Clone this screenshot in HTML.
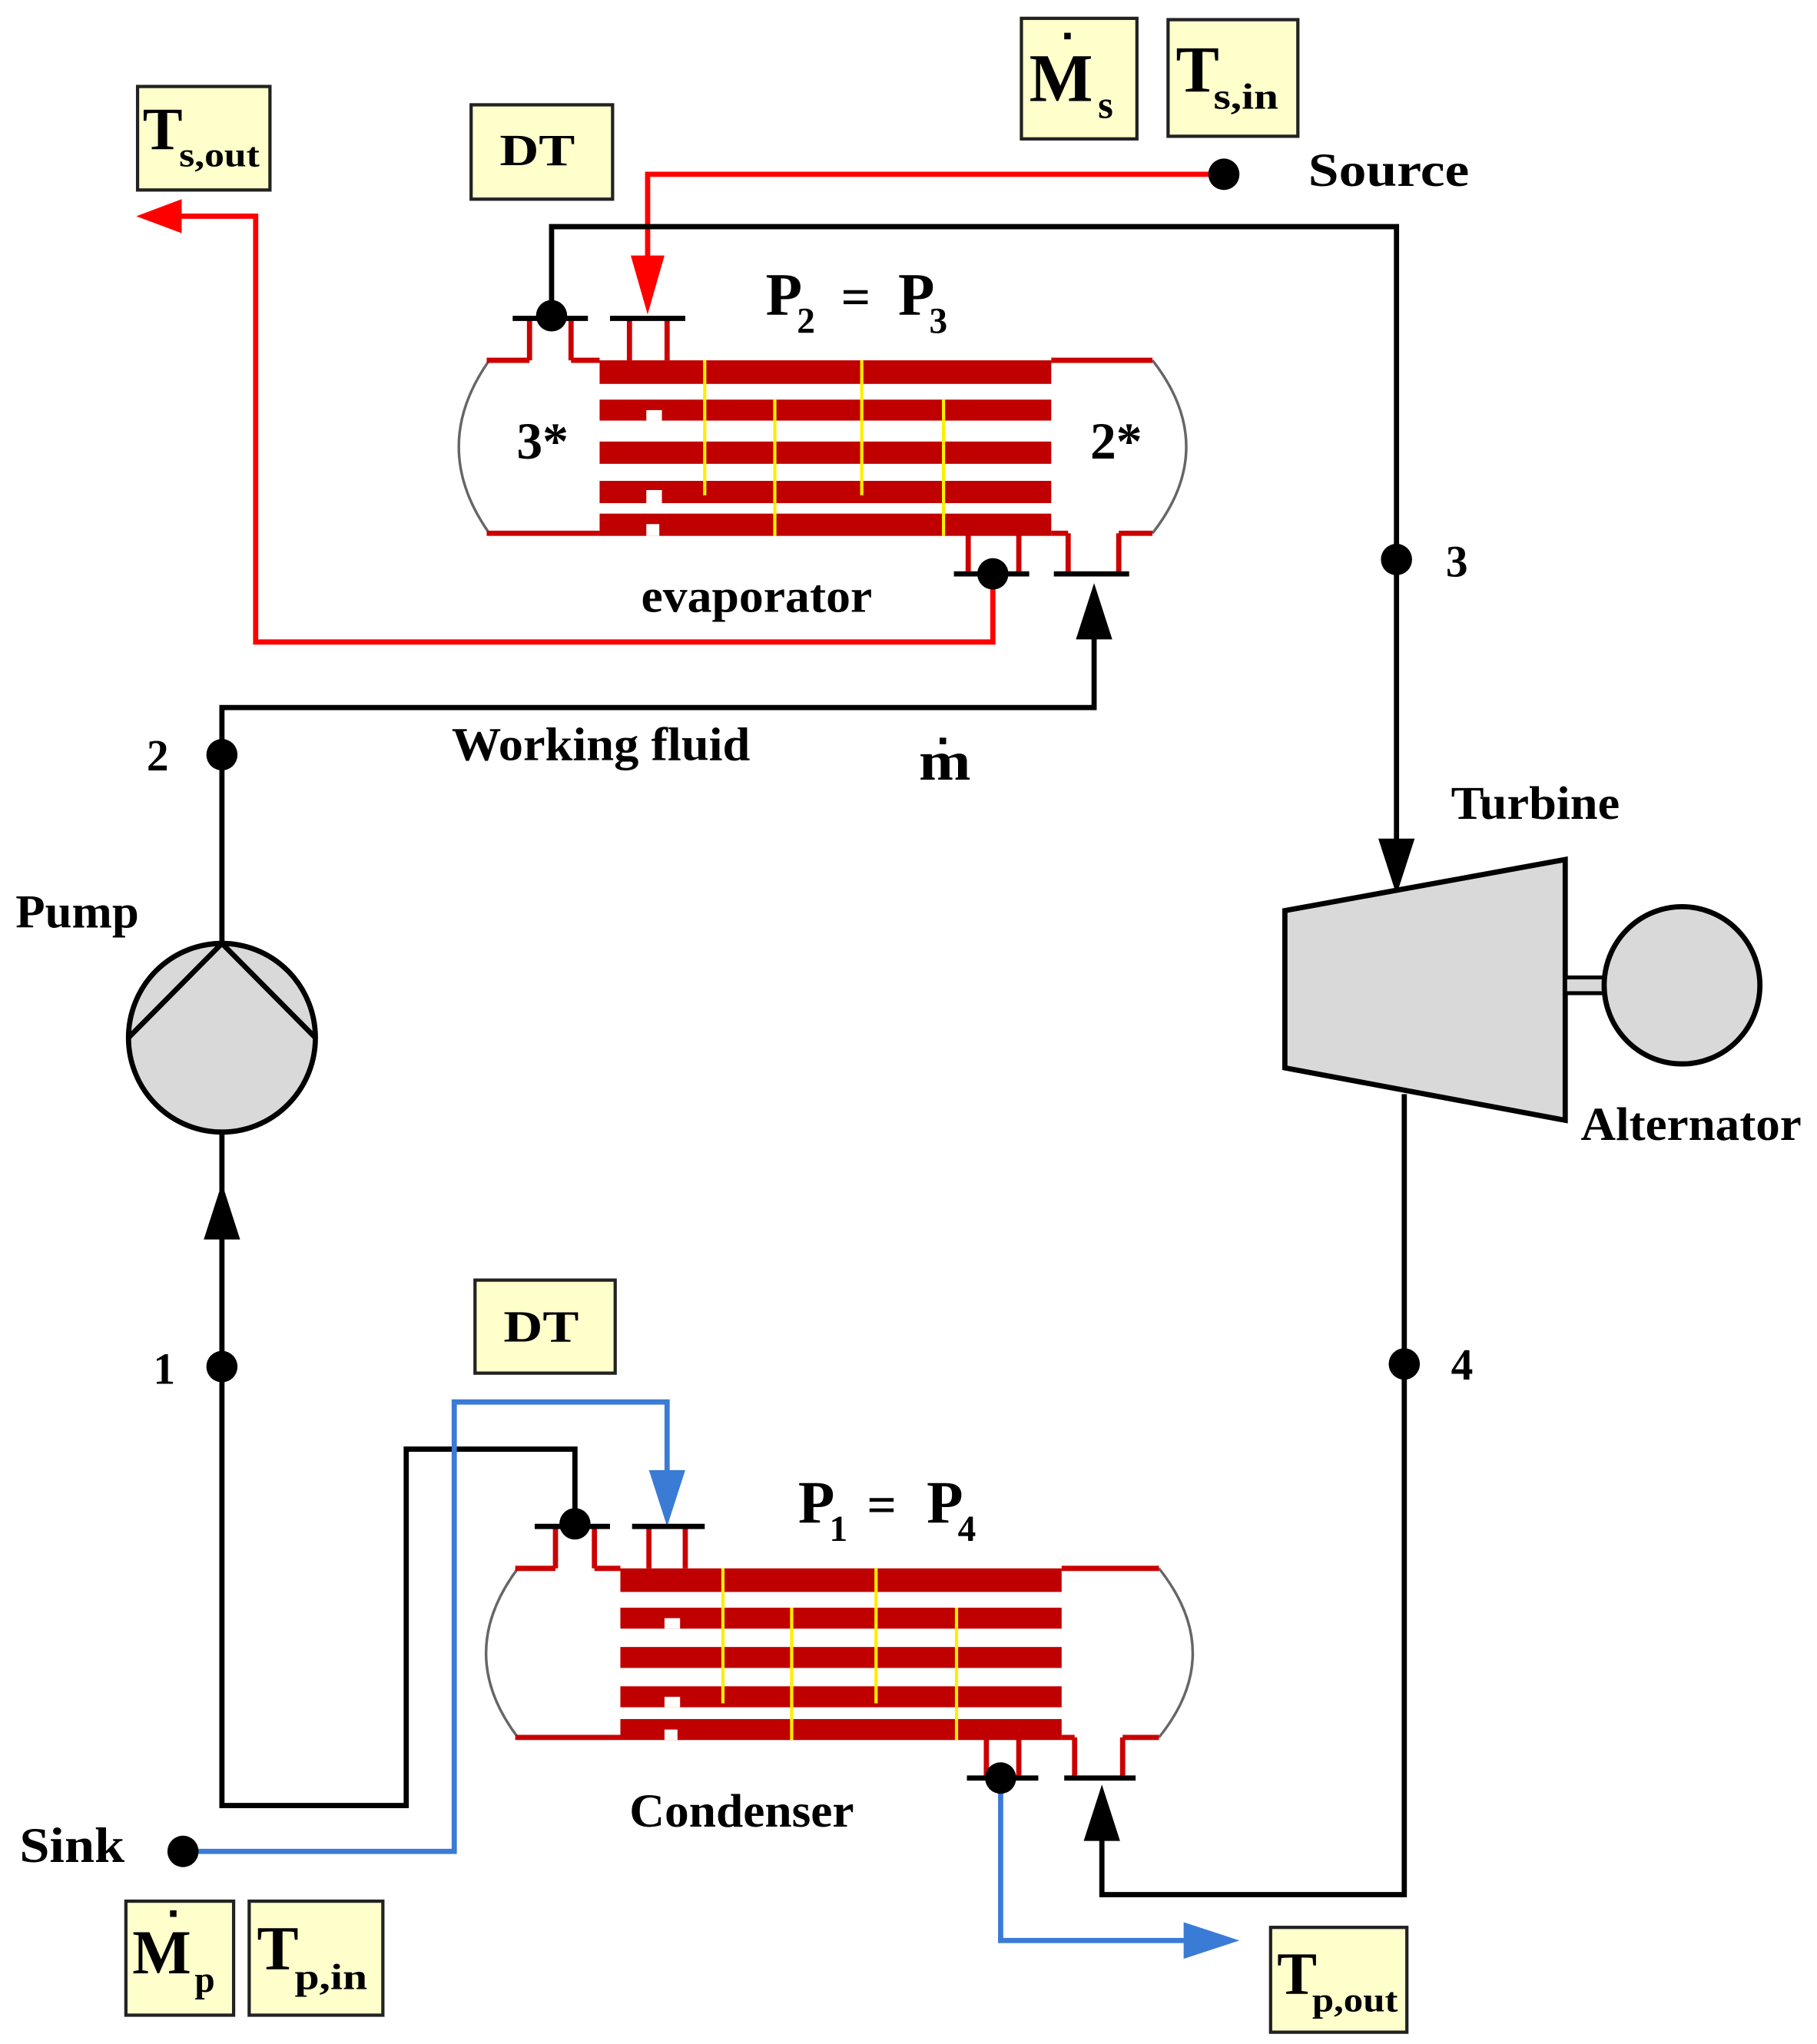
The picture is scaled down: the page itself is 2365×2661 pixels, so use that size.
<!DOCTYPE html>
<html><head><style>
html,body{margin:0;padding:0;background:#fff;}
svg{display:block;}
text{font-family:"Liberation Serif",serif;font-weight:bold;fill:#000;}
</style></head><body>
<svg width="2365" height="2661" viewBox="0 0 1400 1560" preserveAspectRatio="none" xmlns="http://www.w3.org/2000/svg">
<!-- boxes -->
<g fill="#ffffcc" stroke="#222" stroke-width="2.5">
<rect x="106" y="66" width="102" height="79"/>
<rect x="363" y="80" width="109" height="72"/>
<rect x="787" y="14" width="89" height="92"/>
<rect x="900" y="15" width="100" height="89"/>
<rect x="366" y="977" width="108" height="71"/>
<rect x="97" y="1451" width="83" height="87"/>
<rect x="192" y="1451" width="103" height="87"/>
<rect x="979" y="1471" width="105" height="80"/>
</g>
<text x="110" y="114" font-size="46">T</text><text x="138" y="127" font-size="26" textLength="62" lengthAdjust="spacingAndGlyphs">s,out</text>
<text x="385" y="126" font-size="34" textLength="58" lengthAdjust="spacingAndGlyphs">DT</text>
<text x="793" y="77" font-size="52">M</text><rect x="820" y="25" width="5" height="5"/><text x="846" y="90" font-size="30">s</text>
<text x="906" y="70" font-size="50">T</text><text x="935" y="83" font-size="28" textLength="50" lengthAdjust="spacingAndGlyphs">s,in</text>
<text x="388" y="1024" font-size="34" textLength="58" lengthAdjust="spacingAndGlyphs">DT</text>
<text x="102" y="1506" font-size="48">M</text><rect x="131" y="1458" width="5" height="5"/><text x="150" y="1520" font-size="28">p</text>
<text x="198" y="1503" font-size="48">T</text><text x="227" y="1518" font-size="28" textLength="56" lengthAdjust="spacingAndGlyphs">p,in</text>
<text x="984" y="1522" font-size="46">T</text><text x="1011" y="1535" font-size="26" textLength="66" lengthAdjust="spacingAndGlyphs">p,out</text>

<!-- red source line -->
<g stroke="#ff0000" stroke-width="4" fill="none">
<polyline points="943,133 499,133 499,200"/>
<polyline points="765,438 765,490 197,490 197,165 140,165"/>
</g>
<polygon points="486,195 512,195 499,240" fill="#ff0000"/>
<polygon points="140,152 140,178 105,165" fill="#ff0000"/>
<circle cx="943" cy="133" r="12"/>

<!-- black lines -->
<g stroke="#000" stroke-width="4" fill="none">
<polyline points="425,241 425,173 1076,173 1076,650"/>
<polyline points="171,720 171,540 843,540 843,480"/>
<polyline points="171,864 171,1378 313,1378 313,1106 443,1106 443,1163"/>
<polyline points="1082,835 1082,1446 849,1446 849,1400"/>
</g>
<polygon points="1062,640 1090,640 1076,683" />
<polygon points="829,488 857,488 843,445"/>
<polygon points="157,946 185,946 171,903"/>
<polygon points="835,1405 863,1405 849,1362"/>
<circle cx="1076" cy="427" r="12"/>
<circle cx="171" cy="576" r="12"/>
<circle cx="171" cy="1043" r="12"/>
<circle cx="1082" cy="1041" r="12"/>

<!-- blue -->
<g stroke="#3a7bd5" stroke-width="4" fill="none">
<polyline points="141,1413 350,1413 350,1070 514,1070 514,1125"/>
<polyline points="771,1357 771,1481 915,1481"/>
</g>
<polygon points="500,1122 528,1122 514,1165" fill="#3a7bd5"/>
<polygon points="912,1467 912,1495 955,1481" fill="#3a7bd5"/>
<circle cx="141" cy="1413" r="12"/>

<!-- evaporator -->
<g fill="none" stroke="#666" stroke-width="2">
<path d="M377,275 Q330,341 377,407"/>
<path d="M888,275 Q940,341 888,407"/>
</g>
<g stroke="#cc0000" stroke-width="4" fill="none">
<line x1="375" y1="275" x2="408" y2="275"/><line x1="440" y1="275" x2="462" y2="275"/>
<line x1="810" y1="275" x2="888" y2="275"/>
<line x1="375" y1="407" x2="462" y2="407"/>
<line x1="810" y1="407" x2="823" y2="407"/><line x1="862" y1="407" x2="888" y2="407"/>
<polyline points="408,275 408,243"/><polyline points="440,275 440,243"/>
<polyline points="485,275 485,243"/><polyline points="514,275 514,243"/>
<polyline points="746,407 746,438"/><polyline points="785,407 785,438"/>
<polyline points="823,407 823,438"/><polyline points="862,407 862,438"/>
</g>
<g fill="#c00000">
<rect x="462" y="275" width="348" height="18"/>
<rect x="462" y="305" width="348" height="16"/>
<rect x="462" y="337" width="348" height="17"/>
<rect x="462" y="367" width="348" height="17"/>
<rect x="462" y="392" width="348" height="17"/>
</g>
<g fill="#fff"><rect x="498" y="313" width="12" height="8"/><rect x="498" y="374" width="12" height="10"/><rect x="498" y="400" width="10" height="9"/></g>
<g stroke="#ffee00" stroke-width="2.5">
<line x1="543" y1="275" x2="543" y2="378"/><line x1="597" y1="305" x2="597" y2="409"/>
<line x1="664" y1="275" x2="664" y2="378"/><line x1="727" y1="305" x2="727" y2="409"/>
</g>
<g stroke="#000" stroke-width="4">
<line x1="395" y1="243" x2="453" y2="243"/><line x1="470" y1="243" x2="528" y2="243"/>
<line x1="735" y1="438" x2="793" y2="438"/><line x1="812" y1="438" x2="870" y2="438"/>
</g>
<circle cx="425" cy="241" r="12"/><circle cx="765" cy="438" r="12"/>

<!-- condenser -->
<g fill="none" stroke="#666" stroke-width="2">
<path d="M399,1197 Q350,1262 399,1326"/>
<path d="M893,1197 Q945,1262 893,1326"/>
</g>
<g stroke="#cc0000" stroke-width="4" fill="none">
<line x1="397" y1="1197" x2="428" y2="1197"/><line x1="458" y1="1197" x2="478" y2="1197"/>
<line x1="818" y1="1197" x2="893" y2="1197"/>
<line x1="397" y1="1326" x2="478" y2="1326"/>
<line x1="818" y1="1326" x2="828" y2="1326"/><line x1="865" y1="1326" x2="893" y2="1326"/>
<line x1="428" y1="1197" x2="428" y2="1165"/><line x1="458" y1="1197" x2="458" y2="1165"/>
<line x1="500" y1="1197" x2="500" y2="1165"/><line x1="528" y1="1197" x2="528" y2="1165"/>
<line x1="760" y1="1326" x2="760" y2="1357"/><line x1="785" y1="1326" x2="785" y2="1357"/>
<line x1="828" y1="1326" x2="828" y2="1357"/><line x1="865" y1="1326" x2="865" y2="1357"/>
</g>
<g fill="#c00000">
<rect x="478" y="1197" width="340" height="18"/>
<rect x="478" y="1227" width="340" height="16"/>
<rect x="478" y="1257" width="340" height="16"/>
<rect x="478" y="1287" width="340" height="16"/>
<rect x="478" y="1312" width="340" height="16"/>
</g>
<g fill="#fff"><rect x="512" y="1235" width="12" height="8"/><rect x="512" y="1295" width="12" height="8"/><rect x="512" y="1320" width="10" height="8"/></g>
<g stroke="#ffee00" stroke-width="2.5">
<line x1="557" y1="1197" x2="557" y2="1300"/><line x1="610" y1="1227" x2="610" y2="1328"/>
<line x1="675" y1="1197" x2="675" y2="1300"/><line x1="737" y1="1227" x2="737" y2="1328"/>
</g>
<g stroke="#000" stroke-width="4">
<line x1="412" y1="1165" x2="470" y2="1165"/><line x1="487" y1="1165" x2="543" y2="1165"/>
<line x1="745" y1="1357" x2="800" y2="1357"/><line x1="820" y1="1357" x2="875" y2="1357"/>
</g>
<circle cx="443" cy="1163" r="12"/><circle cx="771" cy="1357" r="12"/>

<!-- pump -->
<circle cx="171" cy="792" r="72" fill="#d9d9d9" stroke="#000" stroke-width="4"/>
<polyline points="99,792 171,720 243,792" fill="none" stroke="#000" stroke-width="4"/>

<!-- turbine -->
<polygon points="990,695 1206,656 1206,855 990,815" fill="#d9d9d9" stroke="#000" stroke-width="4"/>
<rect x="1206" y="746" width="30" height="12" fill="#d9d9d9" stroke="#000" stroke-width="3"/>
<circle cx="1296" cy="752" r="60" fill="#d9d9d9" stroke="#000" stroke-width="4"/>

<!-- labels -->
<text x="1008" y="142" font-size="36" textLength="124" lengthAdjust="spacingAndGlyphs">Source</text>
<text x="1118" y="625" font-size="36" textLength="130" lengthAdjust="spacingAndGlyphs">Turbine</text>
<text x="1218" y="870" font-size="36" textLength="170" lengthAdjust="spacingAndGlyphs">Alternator</text>
<text x="12" y="708" font-size="36" textLength="95" lengthAdjust="spacingAndGlyphs">Pump</text>
<text x="348" y="580" font-size="36" textLength="230" lengthAdjust="spacingAndGlyphs">Working fluid</text>
<text x="708" y="595" font-size="42" textLength="40" lengthAdjust="spacingAndGlyphs">m</text><rect x="724" y="563" width="5" height="5"/>
<text x="494" y="467" font-size="36" textLength="178" lengthAdjust="spacingAndGlyphs">evaporator</text>
<text x="485" y="1394" font-size="36" textLength="173" lengthAdjust="spacingAndGlyphs">Condenser</text>
<text x="15" y="1421" font-size="38" textLength="81" lengthAdjust="spacingAndGlyphs">Sink</text>
<text x="113" y="588" font-size="34">2</text>
<text x="118" y="1056" font-size="34">1</text>
<text x="1114" y="440" font-size="34">3</text>
<text x="1118" y="1053" font-size="34">4</text>
<text x="398" y="350" font-size="40">3*</text>
<text x="840" y="350" font-size="40">2*</text>
<text x="590" y="240" font-size="46">P</text><text x="614" y="254" font-size="28">2</text>
<text x="648" y="240" font-size="40">=</text>
<text x="692" y="240" font-size="46">P</text><text x="716" y="254" font-size="28">3</text>
<text x="615" y="1162" font-size="46">P</text><text x="639" y="1176" font-size="28">1</text>
<text x="668" y="1162" font-size="40">=</text>
<text x="714" y="1162" font-size="46">P</text><text x="738" y="1176" font-size="28">4</text>
</svg>
</body></html>
